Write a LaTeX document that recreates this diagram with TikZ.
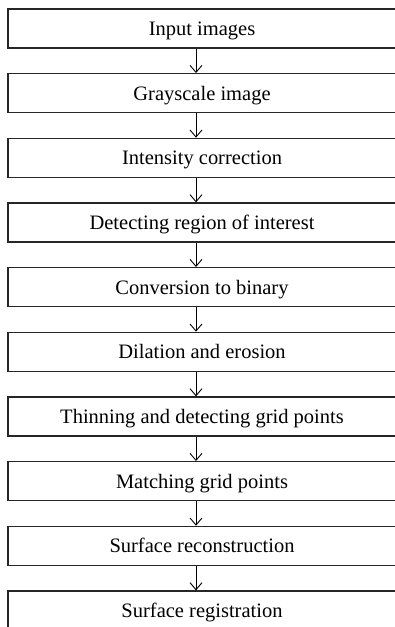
\documentclass[tikz,border=0pt]{standalone}
\usepackage{fontspec}
\setmainfont{Liberation Serif}
\usetikzlibrary{arrows.meta}
\begin{document}
\begin{tikzpicture}[x=1pt,y=1pt,
  stepbox/.style={draw=black!85, line width=1.3pt, minimum width=388pt, minimum height=39pt,
    inner sep=0pt, text height=14pt, text depth=0pt, font=\fontsize{20.5pt}{24pt}\selectfont},
  flow/.style={draw=black, line width=0.9pt, -{Straight Barb[length=7pt,width=12pt,line width=0.9pt]}}]
\useasboundingbox (0,0) rectangle (394,627);
\fill[white] (0,0) rectangle (394,627);
\foreach \i/\t in {0/Input images,1/Grayscale image,2/Intensity correction,3/Detecting region of interest,4/Conversion to binary,5/Dilation and erosion,6/Thinning and detecting grid points,7/Matching grid points,8/Surface reconstruction,9/Surface registration}{
  \node[stepbox] (b\i) at (202, {627-28.5-64.67*\i}) {\t};
}
\foreach \i [evaluate=\i as \j using int(\i+1)] in {0,...,8}{
  \draw[flow] (b\i.south -| 196,0) -- (b\j.north -| 196,0);
}
\end{tikzpicture}
\end{document}
